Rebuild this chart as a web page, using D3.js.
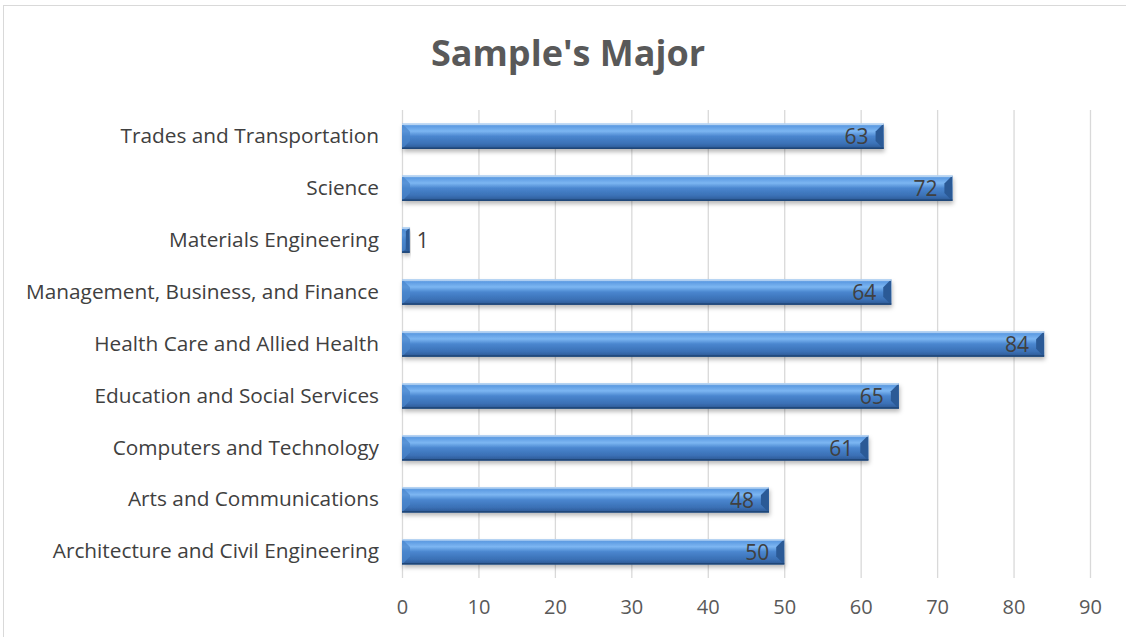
<!DOCTYPE html>
<html><head><meta charset="utf-8">
<script src="https://cdn.jsdelivr.net/npm/d3@7"></script>
<style>body{margin:0;background:#fff;} svg{display:block;}</style>
</head><body>
<script>
const categories = ["Architecture and Civil Engineering","Arts and Communications","Computers and Technology","Education and Social Services","Health Care and Allied Health","Management, Business, and Finance","Materials Engineering","Science","Trades and Transportation"];
const values = [50,48,61,65,84,64,1,72,63];
const ticks = [0,10,20,30,40,50,60,70,80,90];
const title = "Sample's Major";

const W=1126,H=637;
const m={left:402,right:W-1090,top:110,bottom:H-578};
const svg=d3.select("body").append("svg").attr("width",W).attr("height",H);
const defs=svg.append("defs");
const g1=defs.append("linearGradient").attr("id","bar").attr("x1",0).attr("y1",0).attr("x2",0).attr("y2",1);
[[0,"#9cc6f2"],[0.1,"#5d9be2"],[0.3,"#7cb6f2"],[0.5,"#4a86cf"],[0.8,"#3a70b5"],[1,"#2a5690"]].forEach(([o,c])=>g1.append("stop").attr("offset",o).attr("stop-color",c));
const f=defs.append("filter").attr("id","sh").attr("x","-5%").attr("y","-30%").attr("width","110%").attr("height","180%");
f.append("feDropShadow").attr("dx",1).attr("dy",3).attr("stdDeviation",2).attr("flood-color","#000").attr("flood-opacity",0.28);

svg.append("rect").attr("x",3.5).attr("y",5.5).attr("width",W).attr("height",H).attr("fill","#fff").attr("stroke","#d9d9d9");

const x=d3.scaleLinear().domain([0,90]).range([m.left,W-m.right]);
const y=d3.scaleBand().domain(categories.slice().reverse()).range([m.top,H-m.bottom]).paddingInner(0.51).paddingOuter(0.26);

svg.append("g").attr("transform",`translate(0,${H-m.bottom})`)
  .call(d3.axisBottom(x).tickValues(ticks).tickSize(-(H-m.bottom-m.top)).tickPadding(22))
  .call(g=>{g.select(".domain").remove();
    g.selectAll(".tick line").attr("stroke","#d9d9d9").attr("stroke-width",1.3);
    g.selectAll(".tick text").attr("fill","#595959").style("font-family","'Open Sans',sans-serif").style("font-size","20px");});

svg.append("g").attr("transform",`translate(${m.left},0)`)
  .call(d3.axisLeft(y).tickSize(0).tickPadding(23))
  .call(g=>{g.select(".domain").remove();
    g.selectAll(".tick text").attr("fill","#404040").style("font-family","'Open Sans',sans-serif").style("font-size","20.8px");});

const bars=svg.append("g").selectAll("g").data(categories.map((c,i)=>({c,v:values[i]}))).join("g");
bars.append("rect").attr("x",x(0)).attr("y",d=>y(d.c)).attr("width",d=>x(d.v)-x(0)).attr("height",y.bandwidth())
  .attr("fill","url(#bar)").attr("filter","url(#sh)");
const bev=Math.min(8,y.bandwidth()/2);
bars.append("path").attr("d",d=>{const x0=x(0),y0=y(d.c),h=y.bandwidth(),b=Math.min(bev,(x(d.v)-x0)/2);
  return `M${x0},${y0}L${x0+b},${y0+b}L${x0+b},${y0+h-b}L${x0},${y0+h}Z`;}).attr("fill","#4a86cc").attr("opacity",0.7);
bars.append("path").attr("d",d=>{const x1=x(d.v),y0=y(d.c),h=y.bandwidth(),b=Math.min(bev,(x1-x(0))/2);
  return `M${x1},${y0}L${x1-b},${y0+b}L${x1-b},${y0+h-b}L${x1},${y0+h}Z`;}).attr("fill","#2b5a96");
bars.append("rect").attr("x",x(0)).attr("y",d=>y(d.c)).attr("width",d=>x(d.v)-x(0)).attr("height",1.5).attr("fill","#b8d4f2");
bars.append("rect").attr("x",x(0)).attr("y",d=>y(d.c)+y.bandwidth()-1.5).attr("width",d=>x(d.v)-x(0)).attr("height",1.5).attr("fill","#1f4677");

bars.append("text").attr("x",d=>d.v<5?x(d.v)+7:x(d.v)-15).attr("y",d=>y(d.c)+y.bandwidth()/2).attr("dy","0.37em")
  .attr("text-anchor",d=>d.v<5?"start":"end").attr("fill","#404040")
  .style("font-family","'Open Sans',sans-serif").style("font-size","21px").text(d=>d.v);

svg.append("text").attr("x",568).attr("y",66).attr("text-anchor","middle").attr("fill","#595959")
  .style("font-family","'Open Sans',sans-serif").style("font-weight","bold").style("font-size","36px").text(title);
</script>
</body></html>
